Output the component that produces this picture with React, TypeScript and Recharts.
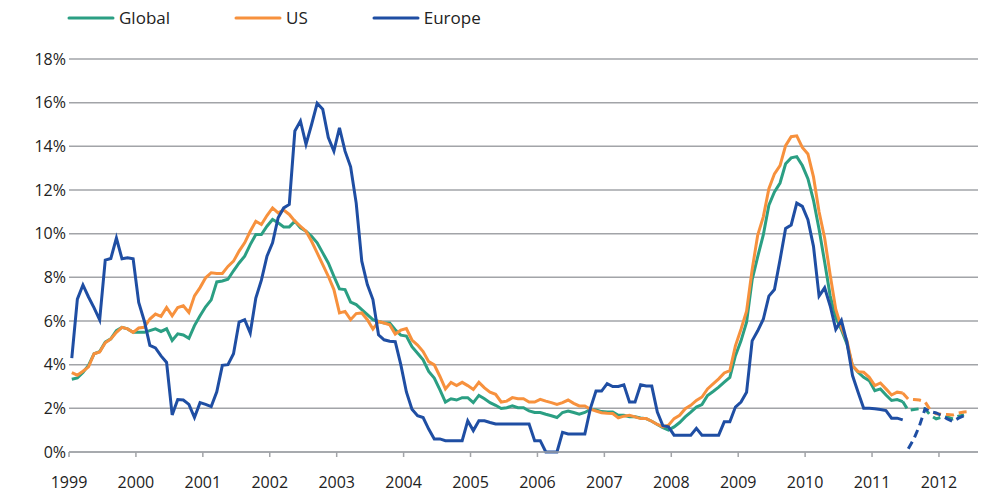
import { LineChart, Line, XAxis, YAxis, CartesianGrid, Legend } from "recharts";

// monthly series, Jan 1999 = month 0
const years = ["1999", "2000", "2001", "2002", "2003", "2004", "2005", "2006", "2007", "2008", "2009", "2010", "2011", "2012"];
const yTicks = [0, 2, 4, 6, 8, 10, 12, 14, 16, 18];

const globalActual = [
  3.33, 3.39, 3.64, 3.97, 4.5, 4.6, 5.03, 5.18, 5.56, 5.71, 5.64, 5.48,
  5.48, 5.48, 5.56, 5.64, 5.52, 5.64, 5.11, 5.41, 5.36, 5.21, 5.79, 6.24,
  6.65, 6.97, 7.79, 7.83, 7.91, 8.3, 8.66, 8.97, 9.5, 9.96, 9.96, 10.34,
  10.65, 10.5, 10.31, 10.31, 10.57, 10.27, 10.11, 9.88, 9.58, 9.12, 8.66, 8.05,
  7.47, 7.44, 6.87, 6.75, 6.52, 6.29, 6.06, 5.98, 5.91, 5.91, 5.6, 5.35,
  5.31, 4.82, 4.52, 4.22, 3.69, 3.39, 2.86, 2.29, 2.44, 2.38, 2.49, 2.49,
  2.26, 2.59, 2.44, 2.26, 2.14, 1.99, 2.03, 2.11, 2.03, 2.03, 1.88, 1.81,
  1.81, 1.73, 1.66, 1.58, 1.81, 1.88, 1.81, 1.73, 1.81, 1.96, 1.93, 1.85,
  1.83, 1.83, 1.68, 1.68, 1.61, 1.61, 1.56, 1.53, 1.41, 1.26, 1.11, 1.0,
  1.15, 1.35, 1.61, 1.83, 2.06, 2.17, 2.59, 2.77, 2.97, 3.2, 3.42, 4.41,
  5.09, 5.95, 7.89, 8.95, 9.94, 11.3, 11.91, 12.32, 13.2, 13.47, 13.53, 13.12,
  12.52, 11.53, 10.2, 8.7, 7.14, 6.15, 5.6, 4.95, 3.95, 3.65, 3.42, 3.27,
  2.81, 2.89, 2.61, 2.36, 2.4, 2.31,
];

const usActual = [
  3.64, 3.52, 3.7, 3.9, 4.5, 4.58, 5.0, 5.18, 5.48, 5.71, 5.64, 5.48,
  5.68, 5.71, 6.09, 6.32, 6.21, 6.62, 6.24, 6.62, 6.7, 6.39, 7.15, 7.53,
  7.98, 8.21, 8.18, 8.18, 8.5, 8.74, 9.2, 9.58, 10.11, 10.57, 10.42, 10.83,
  11.18, 10.95, 11.08, 10.88, 10.57, 10.34, 10.11, 9.65, 9.12, 8.58, 8.05, 7.44,
  6.37, 6.44, 6.06, 6.34, 6.37, 6.06, 5.63, 5.98, 5.91, 5.83, 5.4, 5.58,
  5.65, 5.13, 4.9, 4.6, 4.14, 3.99, 3.47, 2.89, 3.19, 3.04, 3.19, 3.04,
  2.86, 3.19, 2.94, 2.74, 2.64, 2.29, 2.33, 2.49, 2.44, 2.44, 2.29, 2.29,
  2.41, 2.33, 2.26, 2.18, 2.26, 2.38, 2.23, 2.11, 2.11, 1.96, 1.88, 1.8,
  1.77, 1.76, 1.56, 1.64, 1.68, 1.61, 1.53, 1.53, 1.41, 1.26, 1.15, 1.23,
  1.53, 1.68, 1.98, 2.14, 2.36, 2.52, 2.89, 3.12, 3.35, 3.62, 3.73, 4.86,
  5.62, 6.45, 8.35, 9.94, 10.77, 12.06, 12.74, 13.12, 14.03, 14.44, 14.48, 13.95,
  13.65, 12.6, 11.0, 9.8, 8.1, 6.53, 5.7, 5.1, 3.95, 3.68, 3.65, 3.42,
  3.04, 3.16, 2.89, 2.61, 2.74, 2.7,
];

const europeActual = [
  4.3, 7.0, 7.65, 7.1, 6.6, 6.05, 8.79, 8.86, 9.8, 8.85, 8.9, 8.85,
  6.85, 6.0, 4.88, 4.77, 4.4, 4.1, 1.7, 2.4, 2.38, 2.18, 1.58, 2.26,
  2.18, 2.08, 2.76, 3.97, 4.0, 4.5, 5.95, 6.06, 5.45, 7.05, 7.87, 8.97,
  9.58, 10.73, 11.18, 11.34, 14.7, 15.16, 14.09, 15.0, 15.97, 15.7, 14.4, 13.78,
  14.85, 13.78, 13.06, 11.4, 8.74, 7.67, 6.98, 5.37, 5.14, 5.07, 5.05, 4.0,
  2.75, 1.96, 1.66, 1.58, 1.05, 0.6, 0.6, 0.52, 0.52, 0.52, 0.52, 1.43,
  0.98, 1.43, 1.43, 1.35, 1.28, 1.28, 1.28, 1.28, 1.28, 1.28, 1.28, 0.52,
  0.52, 0.0, 0.0, 0.0, 0.9, 0.83, 0.83, 0.83, 0.83, 2.0, 2.79, 2.79,
  3.13, 3.0, 3.0, 3.08, 2.29, 2.29, 3.08, 3.02, 3.02, 1.83, 1.2, 1.15,
  0.77, 0.77, 0.77, 0.77, 1.08, 0.77, 0.77, 0.77, 0.77, 1.38, 1.38, 2.06,
  2.29, 2.74, 5.09, 5.55, 6.08, 7.14, 7.44, 8.8, 10.24, 10.4, 11.4, 11.25,
  10.64, 9.42, 7.14, 7.52, 6.69, 5.62, 6.03, 5.02, 3.5, 2.74, 2.0, 2.0,
  1.98, 1.95, 1.9, 1.55, 1.55, 1.47,
];

// forecasts (dashed)
const globalForecastStart = 149;
const globalForecast = [2.31, 1.9, 1.95, 1.98, 1.98, 1.67, 1.52, 1.6, 1.6, 1.52, 1.64, 1.7];
const usForecastStart = 149;
const usForecast = [2.7, 2.42, 2.4, 2.38, 2.3, 1.9, 1.75, 1.72, 1.72, 1.7, 1.78, 1.83, 1.85];
const europeForecastStart = 150;
const europeForecast = [0.15, 0.6, 1.2, 1.97, 1.85, 1.79, 1.67, 1.52, 1.4, 1.55, 1.67];

const GREEN = "#2b9f83";
const ORANGE = "#f7913d";
const BLUE = "#1f4ea3";
const GRID = "#a2a4a8";
const FONT = "'Open Sans', 'Noto Sans', sans-serif";

const monthCount = usForecastStart + usForecast.length;
const at = (arr: number[], start: number, m: number) => {
  const v = arr[m - start];
  return v === undefined ? null : v;
};

const data = Array.from({ length: monthCount }, (_, m) => ({
  m,
  global: at(globalActual, 0, m),
  us: at(usActual, 0, m),
  europe: at(europeActual, 0, m),
  globalF: at(globalForecast, globalForecastStart, m),
  usF: at(usForecast, usForecastStart, m),
  europeF: at(europeForecast, europeForecastStart, m),
}));

const xTicks = years.map((_, i) => i * 12 - 0.5);

const legendItems = [
  { label: "Global", color: GREEN },
  { label: "US", color: ORANGE },
  { label: "Europe", color: BLUE },
];

function ChartLegend() {
  return (
    <div style={{ display: "flex", alignItems: "center", fontFamily: FONT, fontSize: 17, color: "#222" }}>
      {legendItems.map((it) => (
        <div key={it.label} style={{ display: "flex", alignItems: "center", marginRight: 64 }}>
          <svg width={48} height={6} style={{ marginRight: 4 }}>
            <line x1={2} y1={3} x2={46} y2={3} stroke={it.color} strokeWidth={3} strokeLinecap="round" />
          </svg>
          <span>{it.label}</span>
        </div>
      ))}
    </div>
  );
}

export default function App() {
  return (
    <div style={{ position: "absolute", left: 0, top: 0 }}>
      <LineChart width={986} height={498} data={data} margin={{ top: 59, right: 8, bottom: 16, left: 0 }}>
        <CartesianGrid vertical={false} stroke={GRID} strokeWidth={1.5} />
        <XAxis
          dataKey="m"
          type="number"
          domain={[-0.5, 162.5]}
          ticks={xTicks}
          interval={0}
          height={30}
          tickFormatter={(v: number) => years[Math.round((v + 0.5) / 12)]}
          stroke={GRID}
          strokeWidth={1.5}
          tickSize={5}
          tickMargin={20}
          tick={{ fill: "#222", fontSize: 16, fontFamily: FONT }}
        />
        <YAxis
          domain={[0, 18]}
          ticks={yTicks}
          interval={0}
          width={69}
          axisLine={false}
          tickLine={false}
          tickSize={0}
          tickMargin={3}
          tickFormatter={(v: number) => `${v}%`}
          tick={{ fill: "#222", fontSize: 16, fontFamily: FONT }}
        />
        <Legend verticalAlign="middle" align="center" content={<ChartLegend />} wrapperStyle={{ top: 6, left: 67, width: 520 }} />
        <Line dataKey="global" stroke={GREEN} strokeWidth={3} dot={false} isAnimationActive={false} legendType="none" />
        <Line dataKey="us" stroke={ORANGE} strokeWidth={3} dot={false} isAnimationActive={false} legendType="none" />
        <Line dataKey="europe" stroke={BLUE} strokeWidth={3} dot={false} isAnimationActive={false} legendType="none" />
        <Line dataKey="globalF" stroke={GREEN} strokeWidth={3} strokeDasharray="8 5" dot={false} isAnimationActive={false} legendType="none" />
        <Line dataKey="usF" stroke={ORANGE} strokeWidth={3} strokeDasharray="8 5" dot={false} isAnimationActive={false} legendType="none" />
        <Line dataKey="europeF" stroke={BLUE} strokeWidth={3} strokeDasharray="8 5" dot={false} isAnimationActive={false} legendType="none" />
      </LineChart>
    </div>
  );
}
